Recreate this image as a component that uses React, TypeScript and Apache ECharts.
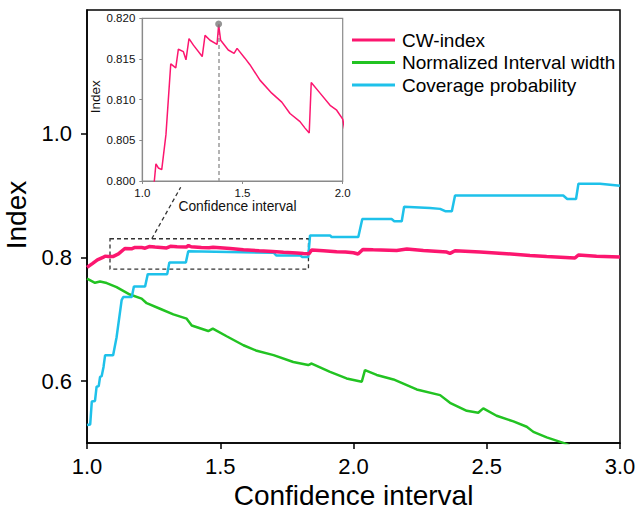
import React, { useEffect, useRef } from "react";
import * as echarts from "echarts";

// ---- data ----
const cwIndex: [number, number][] = [
  [1.0, 0.7840], [1.02, 0.790], [1.039, 0.796], [1.06, 0.8], [1.068, 0.8021], [1.08, 0.8016],
  [1.097, 0.8014], [1.118, 0.8057], [1.142, 0.8144], [1.167, 0.8139], [1.18, 0.8162],
  [1.205, 0.8159], [1.218, 0.8149], [1.233, 0.8175], [1.255, 0.8167], [1.299, 0.8153],
  [1.313, 0.8179], [1.338, 0.8173], [1.373, 0.8168], [1.381, 0.8192], [1.391, 0.8173],
  [1.429, 0.8161], [1.458, 0.8157], [1.473, 0.8163], [1.512, 0.8151], [1.537, 0.8143],
  [1.587, 0.8124], [1.646, 0.8108], [1.696, 0.8097], [1.737, 0.8083], [1.787, 0.8073],
  [1.812, 0.8065], [1.833, 0.8059], [1.843, 0.8121], [1.887, 0.8108], [1.937, 0.8093],
  [1.97, 0.8087], [2.0, 0.8076], [2.017, 0.8055], [2.035, 0.813], [2.074, 0.8124],
  [2.162, 0.8113], [2.2, 0.8135], [2.262, 0.8113], [2.35, 0.8086], [2.362, 0.8065],
  [2.381, 0.8108], [2.475, 0.8086], [2.575, 0.806], [2.662, 0.8032], [2.725, 0.8016],
  [2.812, 0.7995], [2.831, 0.799], [2.844, 0.804], [2.912, 0.802], [3.0, 0.8005],
];

const intervalWidth: [number, number][] = [
  [1.0, 0.7656], [1.03, 0.759], [1.049, 0.761], [1.074, 0.7586], [1.111, 0.752], [1.161, 0.74],
  [1.205, 0.7334], [1.224, 0.726], [1.274, 0.717], [1.324, 0.708], [1.374, 0.701], [1.393, 0.69],
  [1.455, 0.681], [1.472, 0.685], [1.524, 0.6726], [1.587, 0.658], [1.637, 0.649], [1.7, 0.642],
  [1.774, 0.631], [1.83, 0.626], [1.843, 0.6285], [1.912, 0.615], [1.974, 0.6044], [2.031, 0.599],
  [2.043, 0.6177], [2.087, 0.61], [2.15, 0.6027], [2.237, 0.5866], [2.325, 0.5774], [2.362, 0.565],
  [2.425, 0.552], [2.468, 0.549], [2.487, 0.556], [2.537, 0.544], [2.6, 0.535], [2.65, 0.5263],
  [2.675, 0.518], [2.725, 0.509], [2.787, 0.5003], [2.81, 0.496],
];

const coverage: [number, number][] = [
  [1.0, 0.529], [1.012, 0.53], [1.018, 0.567], [1.03, 0.568], [1.036, 0.591], [1.044, 0.592],
  [1.049, 0.607], [1.055, 0.608], [1.062, 0.623], [1.068, 0.642], [1.098, 0.642], [1.111, 0.671],
  [1.13, 0.731], [1.136, 0.736], [1.168, 0.736], [1.176, 0.753], [1.218, 0.753], [1.228, 0.773],
  [1.301, 0.773], [1.309, 0.792], [1.371, 0.792], [1.38, 0.81], [1.7, 0.8076], [1.711, 0.803],
  [1.8, 0.803], [1.809, 0.8005], [1.83, 0.8005], [1.837, 0.8355], [1.912, 0.8355], [1.918, 0.833],
  [2.018, 0.833], [2.033, 0.862], [2.143, 0.862], [2.153, 0.8586], [2.181, 0.8586], [2.19, 0.882],
  [2.287, 0.88], [2.325, 0.8785], [2.344, 0.8747], [2.369, 0.8747], [2.381, 0.9], [2.787, 0.9],
  [2.802, 0.8945], [2.835, 0.8945], [2.844, 0.919], [2.925, 0.919], [3.0, 0.916],
];

const optimum: [number, number] = [1.381, 0.8193];
const zoomBox: [[number, number], [number, number]] = [[1.0863, 0.8302], [1.831, 0.7811]];
const connector: [[number, number], [number, number]] = [[1.243, 0.8302], [1.3516, 0.9134]];

const mainYTicks = [0.6, 0.8, 1.0];
const seriesNames = ["CW-index", "Normalized Interval width", "Coverage probability"];
const colors = ["#fc166f", "#22c322", "#1ec1ea"];

const FONT = "'Liberation Sans', Arial, sans-serif";

export default function App() {
  const ref = useRef<HTMLDivElement>(null);
  useEffect(() => {
    if (!ref.current) return;
    const chart = echarts.init(ref.current, undefined, { renderer: "svg" });
    const option: any = {
      animation: false,
      backgroundColor: "#fff",
      textStyle: { fontFamily: FONT },
      legend: {
        data: seriesNames,
        orient: "vertical",
        left: 347,
        top: 25.5,
        icon: "rect",
        itemWidth: 43,
        itemHeight: 3,
        itemGap: 3.5,
        textStyle: { fontSize: 19, color: "#000", fontFamily: FONT, padding: [0, 0, 0, 2] },
      },
      grid: [
        { left: 87, right: 17, top: 10, bottom: 70, show: true, borderColor: "#000", borderWidth: 1.5, containLabel: false, outerBoundsMode: "none" },
        { left: 142.3, right: 294.3, top: 18.3, bottom: 332, show: true, borderColor: "#8a8a8a", borderWidth: 1.2, backgroundColor: "#fff", containLabel: false, outerBoundsMode: "none" },
      ],
      xAxis: [
        {
          type: "value", gridIndex: 0, min: 1, max: 3, interval: 0.5,
          name: "Confidence interval", nameLocation: "middle", nameGap: 36,
          nameTextStyle: { fontSize: 28, color: "#000", fontFamily: FONT },
          axisLine: { show: true, lineStyle: { color: "#000", width: 1.5 } },
          axisTick: { show: true, inside: false, length: 6, lineStyle: { color: "#000", width: 1.5 } },
          axisLabel: { fontSize: 22, color: "#000", margin: 12, fontFamily: FONT, formatter: (v: number) => v.toFixed(1) },
          splitLine: { show: false },
        },
        {
          type: "value", gridIndex: 1, min: 1, max: 2, interval: 0.5,
          name: "Confidence interval", nameLocation: "middle", nameGap: 16,
          nameTextStyle: { fontSize: 13.8, color: "#111", fontFamily: FONT, padding: [0, 10, 0, 0] },
          axisLine: { show: true, lineStyle: { color: "#8a8a8a", width: 1.2 } },
          axisTick: { show: true, length: 3, lineStyle: { color: "#8a8a8a" } },
          axisLabel: { fontSize: 11.5, color: "#111", margin: 6, fontFamily: FONT, formatter: (v: number) => v.toFixed(1) },
          splitLine: { show: false },
        },
      ],
      yAxis: [
        {
          type: "value", gridIndex: 0, min: 0.5, max: 1.2, interval: 0.1,
          name: "Index", nameLocation: "middle", nameGap: 45, nameRotate: 90,
          nameTextStyle: { fontSize: 28, color: "#000", fontFamily: FONT, padding: [0, 0, 0, 23] },
          axisLine: { show: true, lineStyle: { color: "#000", width: 1.5 } },
          axisTick: { show: true, length: 6, customValues: mainYTicks, lineStyle: { color: "#000", width: 1.5 } },
          axisLabel: { fontSize: 22, color: "#000", margin: 15, fontFamily: FONT, customValues: mainYTicks, formatter: (v: number) => v.toFixed(1) },
          splitLine: { show: false },
        },
        {
          type: "value", gridIndex: 1, min: 0.8, max: 0.82, interval: 0.005,
          name: "Index", nameLocation: "middle", nameGap: 29, nameRotate: 90,
          nameTextStyle: { fontSize: 13.5, color: "#111", fontFamily: FONT, padding: [0, 0, 0, 6] },
          axisLine: { show: true, lineStyle: { color: "#8a8a8a", width: 1.2 } },
          axisTick: { show: true, length: 3, lineStyle: { color: "#8a8a8a" } },
          axisLabel: { fontSize: 11.5, color: "#111", margin: 7, fontFamily: FONT, formatter: (v: number) => v.toFixed(3) },
          splitLine: { show: false },
        },
      ],
      series: [
        {
          name: seriesNames[1], type: "line", xAxisIndex: 0, yAxisIndex: 0, data: intervalWidth,
          symbol: "none", color: colors[1], lineStyle: { width: 2.5, color: colors[1] }, z: 3,
        },
        {
          name: seriesNames[2], type: "line", xAxisIndex: 0, yAxisIndex: 0, data: coverage,
          symbol: "none", color: colors[2], lineStyle: { width: 2.5, color: colors[2] }, z: 4,
        },
        {
          name: seriesNames[0], type: "line", xAxisIndex: 0, yAxisIndex: 0, data: cwIndex,
          symbol: "none", color: colors[0], lineStyle: { width: 3.5, color: colors[0] }, z: 5,
          markArea: {
            silent: true,
            itemStyle: { color: "rgba(0,0,0,0)", borderColor: "#333", borderWidth: 1.3, borderType: [4, 3] },
            data: [[{ coord: zoomBox[0] }, { coord: zoomBox[1] }]],
          },
          markLine: {
            silent: true, symbol: ["none", "none"], label: { show: false },
            lineStyle: { color: "#333", width: 1.3, type: [4, 3] },
            data: [[{ coord: connector[0] }, { coord: connector[1] }]],
          },
        },
        {
          name: "CW-index (detail)", type: "line", xAxisIndex: 1, yAxisIndex: 1, data: cwIndex,
          symbol: "none", color: colors[0], lineStyle: { width: 1.5, color: colors[0] }, z: 6, clip: true,
          markLine: {
            silent: true, symbol: ["none", "none"], label: { show: false },
            lineStyle: { color: "#9a9a9a", width: 1.5, type: [4, 3] },
            data: [[{ coord: optimum }, { coord: [optimum[0], 0.8] }]],
          },
        },
        {
          name: "optimum", type: "scatter", xAxisIndex: 1, yAxisIndex: 1, data: [optimum],
          symbolSize: 7, itemStyle: { color: "#7a7a7a" }, z: 7,
        },
      ],
    };
    chart.setOption(option);
    return () => chart.dispose();
  }, []);
  return <div ref={ref} style={{ width: 637, height: 513, position: "absolute", left: 0, top: 0 }} />;
}
